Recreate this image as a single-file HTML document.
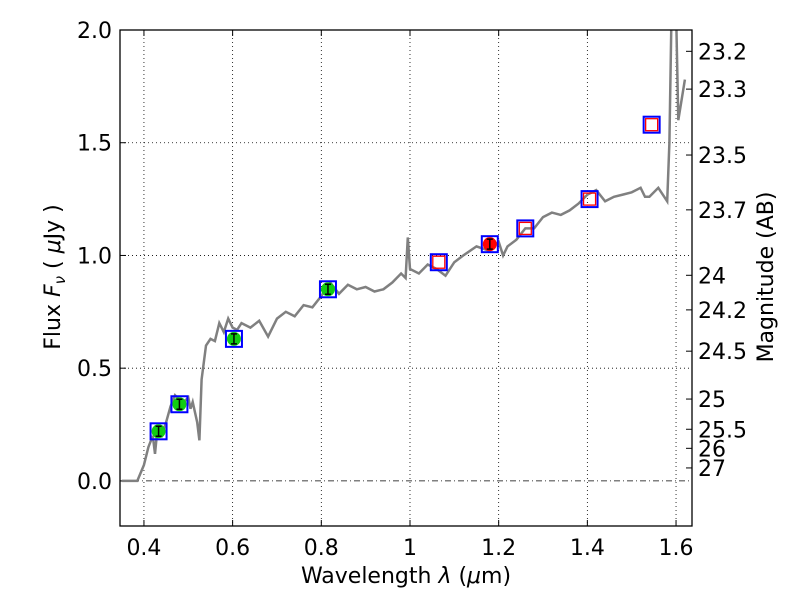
<!DOCTYPE html>
<html><head><meta charset="utf-8"><style>
body{margin:0;background:#fff;}
svg text{font-family:"DejaVu Sans","Liberation Sans",sans-serif;fill:#000;}
</style></head><body>
<svg id="c" width="800" height="600"></svg>
<script>
const xTicks=[0.4,0.6,0.8,1,1.2,1.4,1.6];
const xTickLabels=["0.4","0.6","0.8","1","1.2","1.4","1.6"];
const yTicks=[0,0.5,1,1.5,2];
const yTickLabels=["0.0","0.5","1.0","1.5","2.0"];
const magTicks=[23.2,23.3,23.5,23.7,24,24.2,24.5,25,25.5,26,27];
const specWave=[0.35,0.385,0.40,0.41,0.42,0.425,0.43,0.44,0.45,0.46,0.47,0.48,0.49,0.50,0.505,0.51,0.52,0.525,0.53,0.54,0.55,0.56,0.57,0.58,0.59,0.6,0.61,0.62,0.64,0.66,0.68,0.7,0.72,0.74,0.76,0.78,0.8,0.82,0.84,0.86,0.88,0.9,0.92,0.94,0.96,0.98,0.99,0.995,1.0,1.02,1.04,1.06,1.08,1.1,1.12,1.15,1.18,1.2,1.21,1.22,1.24,1.26,1.28,1.3,1.32,1.34,1.36,1.38,1.4,1.42,1.44,1.46,1.48,1.5,1.52,1.53,1.54,1.56,1.58,1.585,1.59,1.60,1.605,1.62];
const specFlux=[0,0,0.07,0.15,0.2,0.12,0.22,0.2,0.26,0.33,0.38,0.36,0.35,0.37,0.32,0.35,0.26,0.18,0.45,0.6,0.63,0.62,0.7,0.66,0.72,0.68,0.67,0.7,0.68,0.71,0.64,0.72,0.75,0.73,0.78,0.77,0.82,0.88,0.83,0.87,0.85,0.86,0.84,0.85,0.88,0.92,0.9,1.08,0.94,0.92,0.96,0.94,0.91,0.97,1.0,1.04,1.02,1.06,1.0,1.04,1.07,1.12,1.12,1.17,1.19,1.18,1.2,1.23,1.27,1.29,1.24,1.26,1.27,1.28,1.3,1.26,1.26,1.3,1.24,1.5,2.1,2.1,1.6,1.78];
const detWave=[0.433,0.48,0.603,0.815,1.18];
const detFlux=[0.22,0.34,0.63,0.85,1.05];
const detColor=["#1c1","#1c1","#1c1","#1c1","#f00"];
const openWave=[1.065,1.26,1.405,1.545];
const openFlux=[0.97,1.12,1.25,1.58];

const L=120,R=692,T=30,B=526,X0=0.346,X1=1.636,Y0=-0.2,Y1=2.0;
const sx=v=>L+(v-X0)/(X1-X0)*(R-L);
const sy=v=>B-(v-Y0)/(Y1-Y0)*(B-T);
const svg=document.getElementById('c');
const NS="http://www.w3.org/2000/svg";
function mk(tag,attrs,parent){const e=document.createElementNS(NS,tag);for(const k in attrs)e.setAttribute(k,attrs[k]);(parent||svg).appendChild(e);return e;}
const defs=mk('defs',{});const cp=mk('clipPath',{id:'clip'},defs);mk('rect',{x:L,y:T,width:R-L,height:B-T},cp);
xTicks.forEach((t,i)=>{
 const g=mk('line',{x1:sx(t),x2:sx(t),y1:T,y2:B,stroke:'#000','stroke-width':0.8,'stroke-dasharray':'1,3'});
 
 
 mk('line',{x1:sx(t),x2:sx(t),y1:B,y2:B-6,stroke:'#000'});mk('line',{x1:sx(t),x2:sx(t),y1:T,y2:T+6,stroke:'#000'});
 const tx=mk('text',{x:sx(t),y:B+29,'text-anchor':'middle','font-size':22});tx.textContent=xTickLabels[i];
 
 
});
yTicks.forEach((t,i)=>{
 const g=mk('line',{x1:L,x2:R,y1:sy(t),y2:sy(t),stroke:'#000','stroke-width':0.8,'stroke-dasharray':t===0?'6,3,1,3':'1,3'});
 
 
 mk('line',{x1:L,x2:L+6,y1:sy(t),y2:sy(t),stroke:'#000'});
 const tx=mk('text',{x:L-8,y:sy(t)+8,'text-anchor':'end','font-size':22});tx.textContent=yTickLabels[i];
 
 
});
magTicks.forEach(m=>{
 const f=Math.pow(10,(23.9-m)/2.5);const y=sy(f);
 mk('line',{x1:R,x2:R-6,y1:y,y2:y,stroke:'#000'});
 const tx=mk('text',{x:R+6,y:y+8,'font-size':22});tx.textContent=String(m);
 
 
});
const pts=specWave.map((w,i)=>sx(w).toFixed(1)+','+sy(specFlux[i]).toFixed(1)).join(' ');
const sp=mk('polyline',{points:pts,fill:'none',stroke:'#808080','stroke-width':2.5,'clip-path':'url(#clip)'});


detWave.forEach((w,i)=>{
 const x=sx(w),y=sy(detFlux[i]);
 const b=mk('rect',{x:x-8,y:y-8,width:16,height:16,fill:'none',stroke:'#00f','stroke-width':2});
 
 
 const c=mk('circle',{cx:x,cy:y,r:7,fill:detColor[i]});
 
 
 mk('path',{d:`M${x-3} ${y-5}H${x+3}M${x} ${y-5}V${y+5}M${x-3} ${y+5}H${x+3}`,stroke:'#000','stroke-width':1.5});
});
openWave.forEach((w,i)=>{
 const x=sx(w),y=sy(openFlux[i]);
 const b=mk('rect',{x:x-8,y:y-8,width:16,height:16,fill:'none',stroke:'#00f','stroke-width':2});
 
 
 const r=mk('rect',{x:x-6,y:y-6,width:12,height:12,fill:'none',stroke:'#f00','stroke-width':1.3});
 
 
});
const fr=mk('rect',{x:L,y:T,width:R-L,height:B-T,fill:'none',stroke:'#000','stroke-width':1.3});


const xl=mk('text',{x:(L+R)/2,y:583,'text-anchor':'middle','font-size':22,'xml:space':'preserve'});
xl.innerHTML='Wavelength  <tspan font-style="italic">λ</tspan> (<tspan font-style="italic">μ</tspan>m)';


const yl=mk('text',{transform:`translate(60,277) rotate(-90)`,'text-anchor':'middle','font-size':22,'xml:space':'preserve'});
yl.innerHTML='Flux  <tspan font-style="italic">F</tspan><tspan font-style="italic" font-size="15" dy="5">ν</tspan><tspan dy="-5">  ( </tspan><tspan font-style="italic">μ</tspan>Jy )';


const ml=mk('text',{transform:`translate(773,277) rotate(-90)`,'text-anchor':'middle','font-size':22});
ml.textContent='Magnitude (AB)';


</script>
</body></html>
